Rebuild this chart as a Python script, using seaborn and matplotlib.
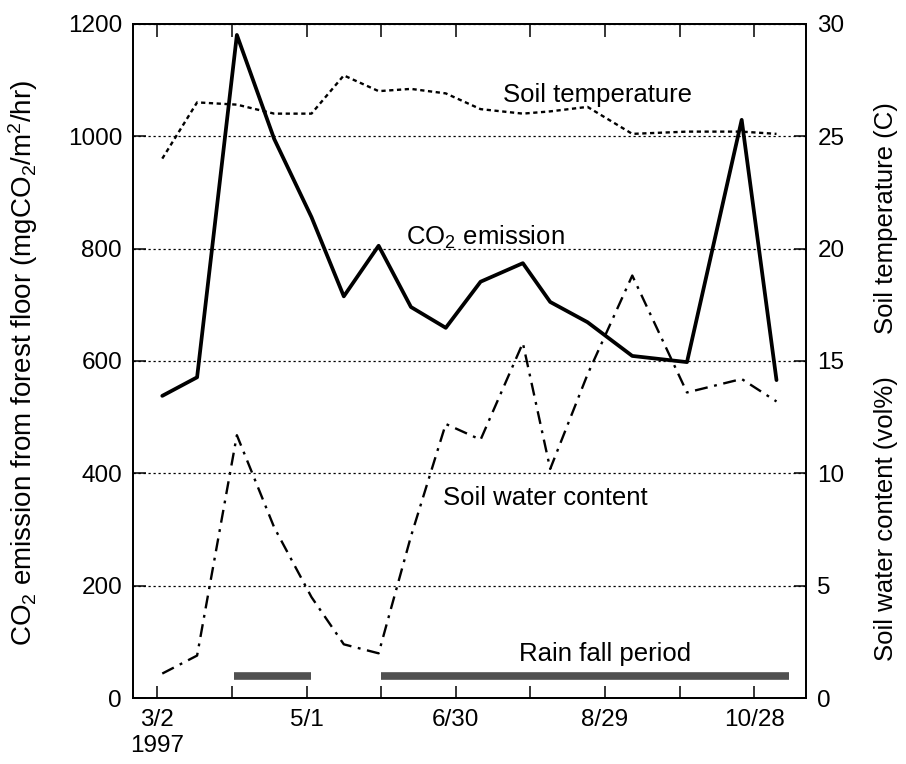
import numpy as np
import pandas as pd
import matplotlib
matplotlib.use("Agg")
import matplotlib.pyplot as plt
import seaborn as sns

# Datos (dias desde 3/2/1997)
dias = [2, 16, 32, 47, 62, 75, 89, 102, 116, 130, 147, 158, 173, 191, 213, 235, 249]
co2 = [538, 571, 1180, 995, 856, 715, 805, 696, 659, 741, 774, 705, 669, 609, 598, 1029, 566]
temp_suelo = [24.0, 26.5, 26.4, 26.0, 26.0, 27.7, 27.0, 27.1, 26.9, 26.2, 26.0, 26.1, 26.3,
              25.1, 25.2, 25.2, 25.1]
agua_suelo = [1.1, 1.9, 11.7, 7.6, 4.5, 2.4, 2.0, 7.2, 12.2, 11.5, 15.8, 10.2, 14.4, 18.8,
              13.6, 14.2, 13.2]

# Periodos de lluvia (inicio, fin) en dias
lluvia_inicio = [31, 90]
lluvia_fin = [62, 254]

# Etiquetas del eje x
x_ticks = [0, 60, 120, 180, 240]
x_labels = ["3/2\n1997", "5/1", "6/30", "8/29", "10/28"]

df = pd.DataFrame({"dia": dias, "co2": co2, "temp": temp_suelo, "agua": agua_suelo})

sns.set_style("ticks")
plt.rcParams["font.family"] = ["Liberation Sans", "DejaVu Sans"]
plt.rcParams["mathtext.fontset"] = "custom"
plt.rcParams["mathtext.rm"] = "Liberation Sans"
plt.rcParams["mathtext.it"] = "Liberation Sans"
for k in ["text.color", "axes.labelcolor", "xtick.color", "ytick.color", "axes.edgecolor"]:
    plt.rcParams[k] = "black"

fig = plt.figure(figsize=(9.06, 7.64), dpi=100)
ax = fig.add_axes([0.147, 0.086, 0.743, 0.883])
ax2 = ax.twinx()

# Lineas
sns.lineplot(data=df, x="dia", y="co2", ax=ax, color="black", lw=2.7)
sns.lineplot(data=df, x="dia", y="temp", ax=ax2, color="black", lw=1.7,
             linestyle=(0, (1.8, 1.5)))
sns.lineplot(data=df, x="dia", y="agua", ax=ax2, color="black", lw=1.7,
             linestyle=(0, (5.5, 2.8, 1.2, 2.8)))

# Barras de periodo de lluvia
ax.hlines([40] * len(lluvia_inicio), lluvia_inicio, lluvia_fin, color="#505050", lw=5.5)

# Ejes
ax.set_xlim(-9.7, 261)
ax.set_ylim(0, 1200)
ax2.set_ylim(0, 30)
ax.set_yticks(range(0, 1201, 200))
ax2.set_yticks(range(0, 31, 5))
ax.set_xticks(x_ticks)
ax.set_xticklabels(x_labels)
ax.set_xticks([30, 90, 150, 210], minor=True)

ax.grid(axis="y", color="black", linestyle=(0, (1.8, 2.2)), lw=0.9)

for a in (ax, ax2):
    for s in a.spines.values():
        s.set_linewidth(1.3)
        s.set_visible(True)
    a.set_xlabel("")
    a.set_ylabel("")

ax.tick_params(axis="both", which="both", direction="in", length=9, width=1.1,
               top=True, labelsize=17.5, pad=8)
ax2.tick_params(axis="y", direction="in", length=9, width=1.1, labelsize=17.5, pad=8)

ax.set_ylabel("CO$_2$ emission from forest floor (mgCO$_2$/m$^2$/hr)", fontsize=20)
ax.yaxis.set_label_coords(-0.138, 0.497)

ax2.text(1.118, 0.712, "Soil temperature (C)", rotation=90, ha="center", va="center",
         fontsize=18.5, transform=ax2.transAxes)
ax2.text(1.118, 0.267, "Soil water content (vol%)", rotation=90, ha="center", va="center",
         fontsize=18.5, transform=ax2.transAxes)

# Etiquetas dentro del grafico
ax.text(177, 1061, "Soil temperature", ha="center", va="baseline", fontsize=18.5)
ax.text(132, 806, "CO$_2$ emission", ha="center", va="baseline", fontsize=18.5)
ax.text(156, 344, "Soil water content", ha="center", va="baseline", fontsize=18.5)
ax.text(180, 66, "Rain fall period", ha="center", va="baseline", fontsize=18.5)

fig.savefig("out.png", dpi=100)
